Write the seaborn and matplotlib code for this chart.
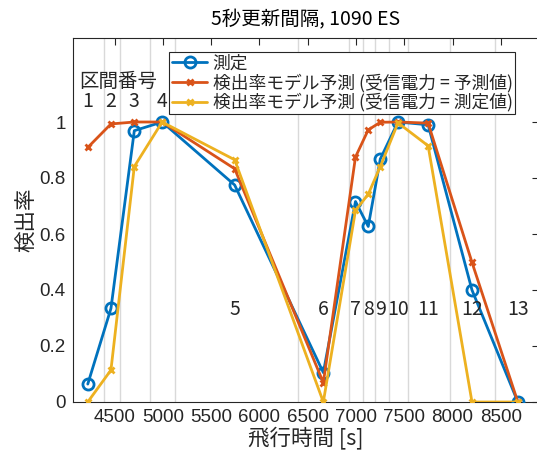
import matplotlib
matplotlib.use("Agg")
import matplotlib.pyplot as plt
import seaborn as sns
import pandas as pd

# flight time of each section [s]
flight_time = [4223, 4463, 4705, 4993, 5744, 6662, 6995, 7127, 7252, 7435, 7747, 8201, 8676]
section_no = list(range(1, 14))
measured = [0.064, 0.334, 0.969, 1.0, 0.775, 0.105, 0.716, 0.627, 0.868, 1.0, 0.99, 0.40, 0.0]
pred_predpower = [0.909, 0.993, 1.0, 1.0, 0.833, 0.069, 0.875, 0.972, 0.999, 1.0, 0.996, 0.499, 0.0]
pred_measpower = [0.0, 0.114, 0.841, 1.0, 0.865, 0.0, 0.684, 0.742, 0.841, 0.997, 0.915, 0.0, 0.0]
# section boundaries
boundaries = [4386, 4559, 4864, 5124, 6402, 6932, 7072, 7192, 7338, 7540, 7974, 8442]

labels = ["測定", "検出率モデル予測 (受信電力 = 予測値)", "検出率モデル予測 (受信電力 = 測定値)"]
colors = ["#0072BD", "#D95319", "#EDB120"]

sns.set_style("white")
plt.rcParams["font.family"] = ["Noto Sans CJK JP", "DejaVu Sans"]

df = pd.DataFrame({"t": flight_time, labels[0]: measured, labels[1]: pred_predpower, labels[2]: pred_measpower})

fig = plt.figure(figsize=(5.37, 4.57), dpi=100)
ax = fig.add_axes([72.5 / 537, 55 / 457, (539 - 72.5) / 537, 364 / 457])

for b in boundaries:
    ax.axvline(b, color="#d9d9d9", lw=1, zorder=0)

sns.lineplot(data=df, x="t", y=labels[0], ax=ax, color=colors[0], lw=2, marker="o", ms=8,
             mfc="none", mec=colors[0], mew=2, sort=False, label=labels[0], zorder=3)
sns.lineplot(data=df, x="t", y=labels[1], ax=ax, color=colors[1], lw=2, marker="x", ms=5,
             mec=colors[1], mew=2, sort=False, label=labels[1], zorder=4)
sns.lineplot(data=df, x="t", y=labels[2], ax=ax, color=colors[2], lw=2, marker="x", ms=5,
             mec=colors[2], mew=2, sort=False, label=labels[2], zorder=5)

# section numbers
for i, (t, n) in enumerate(zip(flight_time, section_no)):
    y = 1.074 if i < 4 else 0.331
    ax.text(t, y, str(n), ha="center", va="center", fontsize=14, color="#262626")
ax.text(4535, 1.145, "区間番号", ha="center", va="center", fontsize=14, color="#262626")

ax.set_xlim(4065, 8895)
ax.set_ylim(0, 1.3)
ax.set_xticks([4500, 5000, 5500, 6000, 6500, 7000, 7500, 8000, 8500])
ax.set_yticks([0, 0.2, 0.4, 0.6, 0.8, 1])
ax.set_yticklabels(["0", "0.2", "0.4", "0.6", "0.8", "1"])
ax.tick_params(direction="in", length=5, width=0.8, top=True, right=True,
               labelsize=13.5, colors="#262626", pad=5)
for lab in ax.get_xticklabels() + ax.get_yticklabels():
    lab.set_family("Liberation Sans")
for s in ax.spines.values():
    s.set_color("#262626")
    s.set_linewidth(0.8)

ax.set_xlabel("飛行時間 [s]", fontsize=15.5, color="#262626", labelpad=0)
ax.set_ylabel("検出率", fontsize=15.5, color="#262626", labelpad=1)
ax.set_title("5秒更新間隔, 1090 ES", fontsize=14, color="#000000", pad=9)

leg = ax.legend(loc="upper left", bbox_to_anchor=(0.207, 0.962), fontsize=12.8,
                frameon=True, fancybox=False, edgecolor="#262626", framealpha=1,
                handlelength=2.0, handletextpad=0.3, borderpad=0.15, labelspacing=0.05,
                borderaxespad=0)
leg.get_frame().set_linewidth(0.8)

fig.savefig("out.png", dpi=100)
